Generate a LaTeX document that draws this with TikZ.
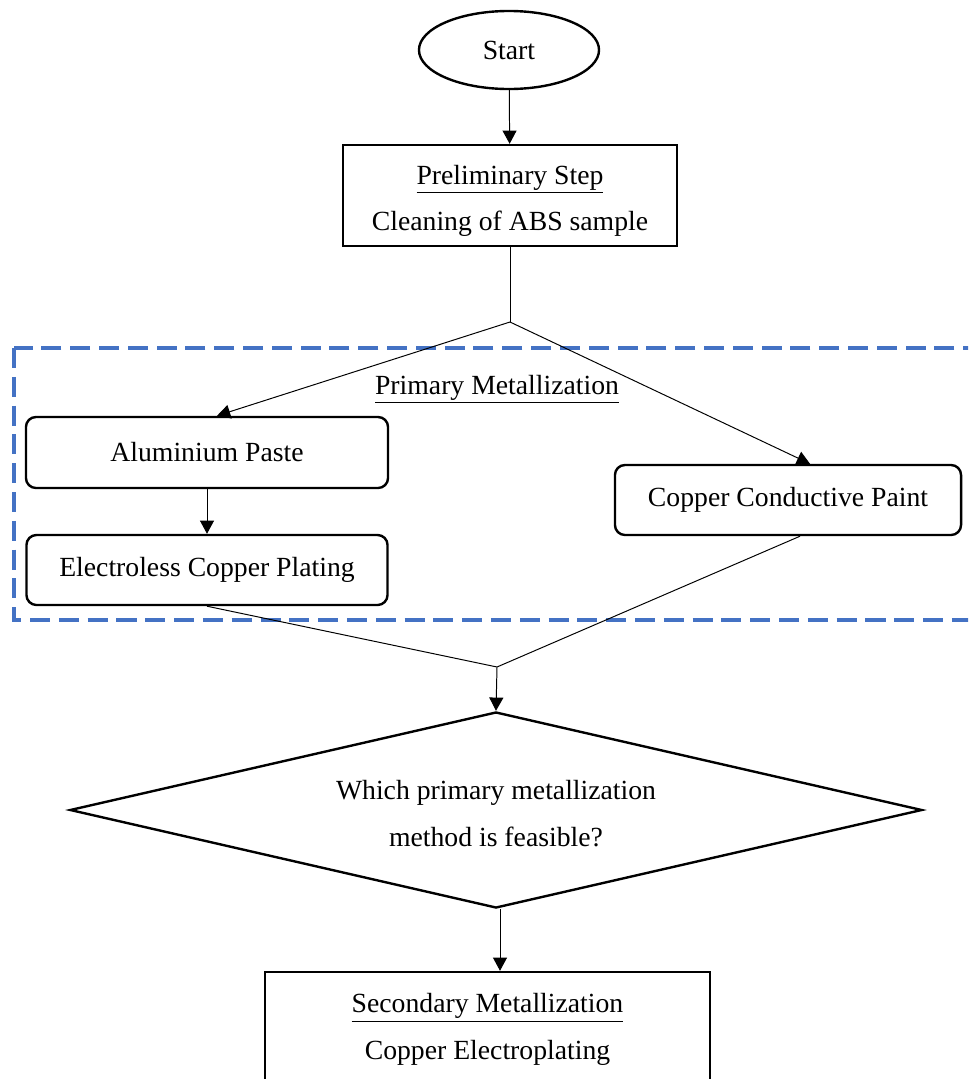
\documentclass[tikz,border=0pt]{standalone}
\usepackage{fontspec}
\setmainfont{Liberation Serif}
\usepackage{tikz}
\usetikzlibrary{shapes.geometric, arrows.meta, positioning}
\definecolor{figblue}{RGB}{68,114,196}
\tikzstyle{plainbox} = [rectangle, draw=black, line width=1.7pt,
align=center, font=\fontsize{19.7}{23}\selectfont]
\tikzstyle{roundbox} = [plainbox, rounded corners=0.25cm]
\tikzstyle{startbox} = [ellipse, draw=black, line width=1.7pt,
minimum width=4.5cm, minimum height=1.95cm, font=\fontsize{19.7}{23}\selectfont]
\tikzstyle{decisionbox} = [diamond, aspect=4.35, draw=black, line width=1.7pt,
minimum width=21.3cm, minimum height=4.9cm,
align=center, font=\fontsize{19.7}{23}\selectfont]
\tikzstyle{arrow} = [-{Triangle[length=3.3mm, width=3.5mm]}, line width=0.7pt]
\tikzstyle{link} = [line width=0.7pt]

\begin{document}
\begin{tikzpicture}[x=0.025cm, y=-0.025cm]
    \useasboundingbox (0,0) rectangle (968,1079);
    \clip (0,0) rectangle (968,1079);
    \node (start) [startbox] at (509,50) {Start};
    \node (prelim) [plainbox, minimum width=8.35cm, minimum height=2.525cm]
    at (510,195.5)
    {\rule{0pt}{21pt}\underline{Preliminary Step}\\[10pt]Cleaning of ABS sample};
    \coordinate (split) at (510,322);

    % primary metallization group
    \draw[figblue, line width=2.6pt, dash pattern=on 0.5cm off 0.22cm]
    (14,348) rectangle (990,620);
    \node (grouplabel) [font=\fontsize{19.7}{23}\selectfont] at (497,389)
    {\underline{Primary Metallization}};
    \node (alu) [roundbox, minimum width=9.05cm, minimum height=1.775cm]
    at (207,452.5) {Aluminium Paste};
    \node (electroless) [roundbox, minimum width=9.025cm, minimum height=1.75cm]
    at (207,570) {Electroless Copper Plating};
    \node (paint) [roundbox, minimum width=8.65cm, minimum height=1.75cm]
    at (788,500) {Copper Conductive Paint};
    \coordinate (merge) at (497,667);

    \node (decide) [decisionbox] at (496,810)
    {\rule{0pt}{19pt}Which primary metallization\\[10pt]method is feasible?};
    \node (second) [plainbox, minimum width=11.125cm, minimum height=2.725cm]
    at (487.5,1026.5)
    {\rule{0pt}{18pt}\underline{Secondary Metallization}\\[10pt]Copper Electroplating};

    \draw[arrow] (start) -- (prelim);
    \draw[link] (prelim.south) -- (split);
    \draw[arrow] (split) -- ([xshift=0.25cm]alu.north);
    \draw[arrow] (split) -- ([xshift=0.55cm]paint.north);
    \draw[arrow] (alu) -- (electroless);
    \draw[link] (electroless.south) -- (merge);
    \draw[link] ([xshift=0.3cm]paint.south) -- (merge);
    \draw[arrow] (merge) -- (decide.north);
    \draw[arrow] ([xshift=0.1cm]decide.south) -- ([xshift=0.1cm]decide.south |- second.north);
\end{tikzpicture}
\end{document}
